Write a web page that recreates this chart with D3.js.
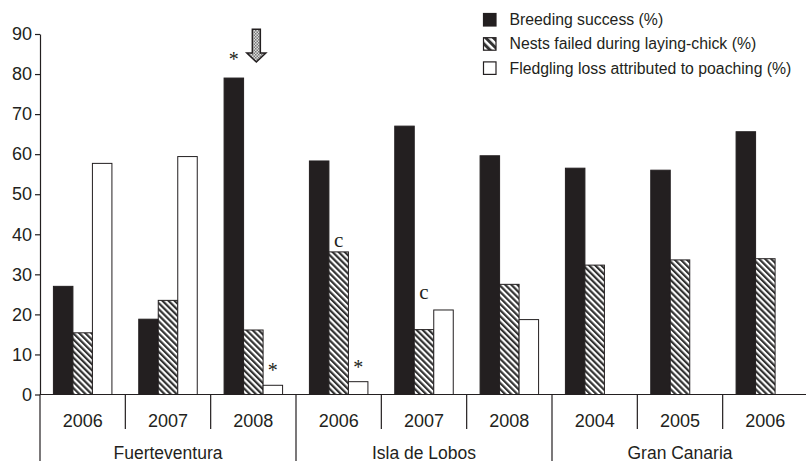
<!DOCTYPE html>
<html>
<head>
<meta charset="utf-8">
<script src="https://cdn.jsdelivr.net/npm/d3@7"></script>
<style>
  html, body { margin: 0; padding: 0; background: #fff; }
  svg { display: block; }
</style>
</head>
<body>
<svg id="chart" width="806" height="461"></svg>
<script>
// ---- data ----
const groups = ["Fuerteventura", "Isla de Lobos", "Gran Canaria"];
const years = [["2006", "2007", "2008"], ["2006", "2007", "2008"], ["2004", "2005", "2006"]];
const seriesNames = ["Breeding success (%)", "Nests failed during laying-chick (%)", "Fledgling loss attributed to poaching (%)"];
const breedingSuccess = [27.0, 18.8, 79.0, 58.3, 67.0, 59.6, 56.5, 56.0, 65.6];
const nestsFailed = [15.4, 23.5, 16.1, 35.6, 16.2, 27.5, 32.3, 33.6, 33.9];
const poachingLoss = [57.7, 59.4, 2.3, 3.2, 21.1, 18.7, null, null, null];
const yTicks = [0, 10, 20, 30, 40, 50, 60, 70, 80, 90];
// annotations: [category index, series index, label, value level of the mark]
const annotations = [[2, 0, "*", 84.7], [2, 2, "*", 7.1], [3, 1, "c", 38.1], [3, 2, "*", 7.8], [4, 1, "c", 25.0]];
// arrow: [category index, series index, tip level, top level]
const arrowAt = [2, 1, 83.0, 91.2];

// ---- build ----
const categories = [];
groups.forEach((g, gi) => years[gi].forEach(y => categories.push(g + " " + y)));
const seriesValues = [breedingSuccess, nestsFailed, poachingLoss];
const keys = ["breed", "nest", "poach"];

const svg = d3.select("#chart");
const defs = svg.append("defs");
const ink = "#231f20";

// hatch pattern
const hatch = defs.append("pattern").attr("id", "hatch").attr("patternUnits", "userSpaceOnUse")
  .attr("width", 4.3).attr("height", 4.3).attr("patternTransform", "rotate(-45)");
hatch.append("rect").attr("width", 4.3).attr("height", 4.3).attr("fill", "#fff");
hatch.append("rect").attr("width", 2.2).attr("height", 4.3).attr("fill", "#333");

const hatchL = defs.append("pattern").attr("id", "hatchL").attr("patternUnits", "userSpaceOnUse")
  .attr("width", 5.5).attr("height", 5.5).attr("patternTransform", "rotate(-45)");
hatchL.append("rect").attr("width", 5.5).attr("height", 5.5).attr("fill", "#fff");
hatchL.append("rect").attr("width", 3).attr("height", 5.5).attr("fill", "#333");

const checks = defs.append("pattern").attr("id", "checks").attr("patternUnits", "userSpaceOnUse")
  .attr("width", 3).attr("height", 3);
checks.append("rect").attr("width", 3).attr("height", 3).attr("fill", "#ddd");
checks.append("rect").attr("width", 1.5).attr("height", 1.5).attr("fill", "#777");
checks.append("rect").attr("x", 1.5).attr("y", 1.5).attr("width", 1.5).attr("height", 1.5).attr("fill", "#777");

const fills = ["#231f20", "url(#hatch)", "#fff"];

const x0 = d3.scaleBand().domain(categories).range([40, 808]).paddingInner(0).paddingOuter(0);
const x1 = d3.scaleBand().domain(keys).range([0, x0.bandwidth()]).paddingInner(0).paddingOuter(0.688);
const y = d3.scaleLinear().domain([0, 90]).range([394.5, 34]);

// bars
const barData = [];
categories.forEach((c, ci) => keys.forEach((k, si) => {
  const v = seriesValues[si][ci];
  if (v != null) barData.push({ c, k, si, v });
}));

svg.append("g").selectAll("rect").data(barData).join("rect")
  .attr("x", d => x0(d.c) + x1(d.k))
  .attr("y", d => y(d.v))
  .attr("width", x1.bandwidth())
  .attr("height", d => y(0) - y(d.v))
  .attr("fill", d => fills[d.si])
  .attr("stroke", ink)
  .attr("stroke-width", 1);

// y axis
const yAxis = d3.axisLeft(y).tickValues(yTicks).tickSize(5).tickSizeOuter(0).tickPadding(3);
const ga = svg.append("g").attr("transform", "translate(40,0)").call(yAxis);
ga.selectAll("path, line").attr("stroke", ink).attr("stroke-width", 1.2);
ga.selectAll("text").attr("font-family", "Liberation Sans, Arial, sans-serif").attr("font-size", 18).attr("fill", ink);

// x axis line
svg.append("line").attr("x1", 40).attr("x2", 808).attr("y1", y(0)).attr("y2", y(0))
  .attr("stroke", ink).attr("stroke-width", 1.2);

// year separators and group dividers
const sep = svg.append("g").attr("stroke", ink).attr("stroke-width", 1.2);
categories.forEach((c, ci) => {
  const xx = x0(c);
  const isGroup = ci % 3 === 0;
  sep.append("line").attr("x1", xx).attr("x2", xx).attr("y1", y(0)).attr("y2", isGroup ? 461 : 429);
});

// year labels
svg.append("g").selectAll("text").data(categories).join("text")
  .attr("x", c => x0(c) + x0.bandwidth() / 2)
  .attr("y", 426.5)
  .attr("text-anchor", "middle")
  .attr("font-family", "Liberation Sans, Arial, sans-serif")
  .attr("font-size", 18)
  .attr("fill", ink)
  .text(c => c.split(" ").pop());

// group labels
svg.append("g").selectAll("text").data(groups).join("text")
  .attr("x", (g, gi) => (x0(categories[gi * 3]) + x0(categories[gi * 3 + 2]) + x0.bandwidth()) / 2)
  .attr("y", 458.5)
  .attr("text-anchor", "middle")
  .attr("font-family", "Liberation Sans, Arial, sans-serif")
  .attr("font-size", 17.5)
  .attr("fill", ink)
  .text(g => g);

// annotations
svg.append("g").selectAll("text").data(annotations).join("text")
  .attr("x", a => x0(categories[a[0]]) + x1(keys[a[1]]) + x1.bandwidth() / 2)
  .attr("y", a => y(a[3]))
  .attr("dy", a => a[2] === "c" ? "0.23em" : "0.55em")
  .attr("text-anchor", "middle")
  .attr("font-family", "Liberation Serif, Times New Roman, serif")
  .attr("font-size", a => a[2] === "c" ? 21 : 20)
  .attr("fill", ink)
  .text(a => a[2]);

// arrow
{
  const cx = x0(categories[arrowAt[0]]) + x1(keys[arrowAt[1]]) + x1.bandwidth() / 2 + 3;
  const tip = y(arrowAt[2]);
  const top = y(arrowAt[3]), neck = tip - 9;
  const sw = 4, hw = 9.5;
  const pts = [[cx - sw, top], [cx + sw, top], [cx + sw, neck], [cx + hw, neck], [cx, tip], [cx - hw, neck], [cx - sw, neck]];
  svg.append("path").attr("d", d3.line()(pts) + "Z")
    .attr("fill", "url(#checks)").attr("stroke", ink).attr("stroke-width", 1.5).attr("stroke-linejoin", "miter");
}

// legend
const legend = svg.append("g").attr("transform", "translate(483.5,13.5)");
const lfills = ["#231f20", "url(#hatchL)", "#fff"];
seriesNames.forEach((s, i) => {
  const row = legend.append("g").attr("transform", `translate(0,${i * 24.2})`);
  row.append("rect").attr("width", 12.5).attr("height", 12.5).attr("fill", lfills[i]).attr("stroke", ink).attr("stroke-width", 1.2);
  row.append("text").attr("x", 26).attr("y", 11.7)
    .attr("font-family", "Liberation Sans, Arial, sans-serif").attr("font-size", 15.8).attr("fill", ink).text(s);
});
</script>
</body>
</html>
